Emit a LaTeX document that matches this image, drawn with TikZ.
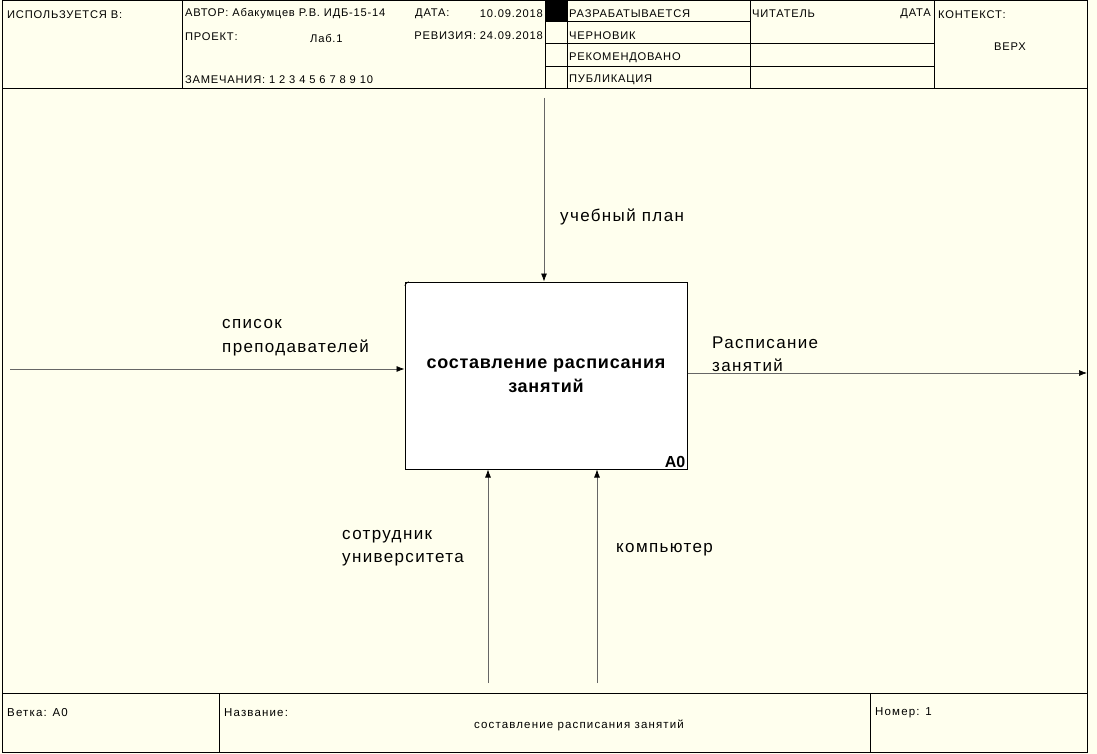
\documentclass[tikz,border=0pt]{standalone}
\usepackage{fontspec}
\setmainfont{Liberation Sans}
\newfontfamily\hdrfont[LetterSpace=7]{Liberation Sans}
\newfontfamily\ftrfont[LetterSpace=10]{Liberation Sans}
\newfontfamily\lblfont[LetterSpace=8]{Liberation Sans}
\newfontfamily\boxfont[LetterSpace=4]{Liberation Sans}
\usetikzlibrary{arrows.meta,positioning}
\definecolor{paper}{RGB}{255,255,238}

\begin{document}
\begin{tikzpicture}[x = 1pt, y = -1pt, frame/.style = {draw, line width = 1pt}, cell/.style = {anchor = west, inner sep = 0pt, font = \hdrfont\fontsize{11.15}{13}\selectfont}, foot/.style = {cell, font = \ftrfont\fontsize{11.5}{13}\selectfont}, flow/.style = {draw = black!60, line width = 0.7pt, -{Latex[length = 8pt, width = 6pt, color = black]}}, tag/.style = {anchor = west, align = left, inner sep = 0pt, font = \lblfont\fontsize{17}{23.5}\selectfont}]
					\fill[paper] (0,0) rectangle (1097,754);
					\useasboundingbox (0,0) rectangle (1097,754);
					% frame, header and footer
					\draw[frame] (2,1) rectangle (1087,752);
					\draw[frame] (2,89) -- (1087,89) (2,693) -- (1087,693);
					\draw[frame] (182,1) -- (182,89) (545,1) -- (545,89) (567,1) -- (567,89) (750,1) -- (750,89) (934,1) -- (934,89);
					\draw[frame] (545,22) -- (750,22) (545,44) -- (934,44) (545,67) -- (934,67);
					\draw[frame] (219,693) -- (219,752) (870,693) -- (870,752);
					\fill (545,1) rectangle (567,22);
					\node[cell] (used) at (7,15) {ИСПОЛЬЗУЕТСЯ В:};
					\node[cell] (author) at (185,14) {АВТОР: Абакумцев Р.В. ИДБ-15-14};
					\node[cell] (project) at (185,37) {ПРОЕКТ:};
					\node[cell] (lab) at (310,38) {Лаб.1};
					\node[cell] (notes) at (185,80) {ЗАМЕЧАНИЯ: 1 2 3 4 5 6 7 8 9 10};
					\node[cell] (date) at (415,14) {ДАТА:};
					\node[cell, anchor = east] (dateval) at (543,14) {10.09.2018};
					\node[cell, anchor = east] (rev) at (543,36) {РЕВИЗИЯ: 24.09.2018};
					\node[cell] (work) at (569,14) {РАЗРАБАТЫВАЕТСЯ};
					\node[cell] (draft) at (569,36) {ЧЕРНОВИК};
					\node[cell] (recom) at (569,58) {РЕКОМЕНДОВАНО};
					\node[cell] (publ) at (569,80) {ПУБЛИКАЦИЯ};
					\node[cell] (reader) at (752,14) {ЧИТАТЕЛЬ};
					\node[cell, anchor = east] (rdate) at (931,14) {ДАТА};
					\node[cell] (context) at (938,15) {КОНТЕКСТ:};
					\node[cell, anchor = center] (top) at (1010,47) {ВЕРХ};
					\node[foot] (branch) at (7,713) {Ветка: А0};
					\node[foot] (name) at (224,713) {Название:};
					\node[foot, anchor = center] (title) at (579,725) {составление расписания занятий};
					\node[foot] (number) at (875,713) {Номер: 1};
					% activity box
					\node[draw, fill = white, line width = 1pt, minimum width = 282pt, minimum height = 187pt, align = center, font = \boxfont\fontsize{18}{24}\bfseries] (box) at (546,375.5) {составление расписания\\занятий};
					\node[anchor = south east, inner sep = 2pt, font = \fontsize{16}{18}\bfseries] (code) at (box.south east) {A0};
					\draw (box.north west) ++(0,4) -- ++(4,-4);
					% arrows
					\coordinate (ctrl) at (544,98);
					\coordinate (inp) at (10,369);
					\coordinate (outp) at (1087,373);
					\coordinate (mech1) at (488,683);
					\coordinate (mech2) at (597,683);
					\draw[flow] (ctrl) -- (ctrl |- box.north);
					\draw[flow] (inp) -- (inp -| box.west);
					\draw[flow] (outp -| box.east) -- (outp);
					\draw[flow] (mech1) -- (mech1 |- box.south);
					\draw[flow] (mech2) -- (mech2 |- box.south);
					\node[tag] (plan) at (560,217) {учебный план};
					\node[tag] (staff) at (222,337.5) {список\\преподавателей};
					\node[tag] (sched) at (712,354) {Расписание\\занятий};
					\node[tag] (worker) at (342,548) {сотрудник\\университета};
					\node[tag] (pc) at (616,550) {компьютер};
				\end{tikzpicture}
\end{document}
